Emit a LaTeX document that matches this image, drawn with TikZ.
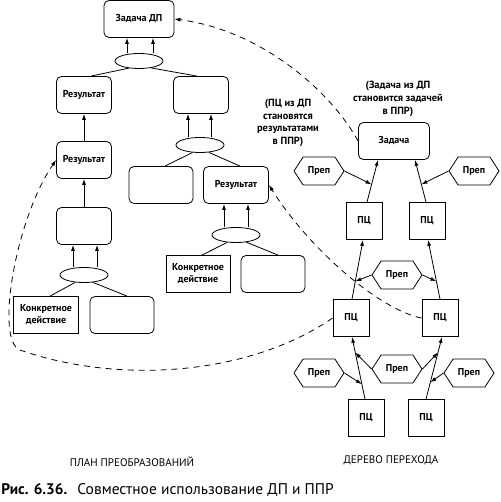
\documentclass[tikz,border=0pt]{standalone}
\usepackage{fontspec}
\setmainfont{PT Sans}
\usetikzlibrary{arrows.meta,shapes.geometric,shapes.symbols}
\tikzset{
  lbl/.style={font=\fontsize{10}{12}\selectfont\bfseries},
  rbox/.style={draw, rounded corners=5pt, minimum width=55pt, minimum height=37pt, inner sep=1pt, align=center, lbl},
  sbox/.style={draw, minimum width=64pt, minimum height=37pt, inner sep=1pt, align=center, lbl},
  pc/.style={draw, minimum width=36pt, minimum height=37pt, inner sep=0pt, lbl},
  oval/.style={draw, ellipse, minimum width=48pt, minimum height=15pt, inner sep=0pt},
  prep/.style={draw, signal, signal to=west and east, signal pointer angle=114, minimum width=50pt, minimum height=28pt, inner sep=0pt, lbl},
  note/.style={align=center, font=\fontsize{10.4}{12.8}\selectfont\bfseries},
  title/.style={font=\fontsize{11}{13}\selectfont},
  arr/.style={-{Latex[length=6pt,width=4pt]}}
}
\begin{document}
\begin{tikzpicture}[x=1pt, y=-1pt, line width=0.8pt]
      \useasboundingbox (0,0) rectangle (500,502);
      \node[rbox, minimum width=70pt] (t0) at (139,19) {Задача ДП};
      \node[oval] (e1) at (139,61) {};
      \node[rbox] (r1) at (84,95) {Результат};
      \node[rbox] (r2) at (201,95) {};
      \node[rbox] (r3) at (84,160) {Результат};
      \node[rbox] (b5) at (84,226) {};
      \node[oval] (e4) at (84,275) {};
      \node[sbox, minimum width=65pt] (k1) at (46,315) {Конкретное\\действие};
      \node[rbox, minimum width=64pt] (b6) at (122,315) {};
      \node[oval] (e2) at (200,145) {};
      \node[rbox, minimum width=64pt] (b3) at (161,185) {};
      \node[rbox, minimum width=65pt] (r4) at (236,185) {Результат};
      \node[oval] (e3) at (236,235) {};
      \node[sbox] (k2) at (198,274) {Конкретное\\действие};
      \node[rbox, minimum width=64pt] (b7) at (273,274) {};
      \node[note] (n1) at (288,123) {(ПЦ из ДП\\становятся\\результатами\\в ППР)};
      \node[note] (n2) at (398,99) {(Задача из ДП\\становится задачей\\в ППР)};
      \node[rbox, minimum width=71pt] (zad) at (394,141) {Задача};
      \node[prep] (p1) at (319,171) {Преп};
      \node[prep] (p2) at (474,171) {Преп};
      \node[pc] (c1) at (364,221) {ПЦ};
      \node[pc] (c2) at (427,221) {ПЦ};
      \node[prep] (p3) at (397,275) {Преп};
      \node[pc] (c3) at (351,318) {ПЦ};
      \node[pc] (c4) at (440,318) {ПЦ};
      \node[prep] (p4) at (319,373) {Преп};
      \node[prep] (p5) at (397,369) {Преп};
      \node[prep] (p6) at (469,373) {Преп};
      \node[pc] (c5) at (366,418) {ПЦ};
      \node[pc] (c6) at (426,418) {ПЦ};
      \node[title] (l1) at (132,462) {ПЛАН ПРЕОБРАЗОВАНИЙ};
      \node[title] (l2) at (391,460) {ДЕРЕВО ПЕРЕХОДА};
      \node[anchor=west, inner sep=0pt, font=\fontsize{15.5}{17}\selectfont] (cap) at (1,490) {\resizebox{66pt}{!}{\textbf{Рис. 6.36.}}\hspace{10pt}Совместное использование ДП и ППР};
      \begin{scope}[-]
        \draw (e1.215) to (r1.70);
        \draw (e1.330) to (r2.102);
        \draw (e2.225) to (b3.78);
        \draw (e2.320) to (r4.78);
        \draw (e3.220) to (k2.78);
        \draw (e3.325) to (b7.75);
        \draw (e4.220) to (k1.78);
        \draw (e4.320) to (b6.75);
      \end{scope}
      \begin{scope}[arr]
        \draw ([xshift=-12]e1.north) to ([xshift=-12]t0.south);
        \draw ([xshift=14]e1.north) to ([xshift=14]t0.south);
        \draw (r3) to (r1);
        \draw (b5) to (r3);
        \draw ([xshift=-11]e4.north) to ([xshift=-11]b5.south);
        \draw ([xshift=13]e4.north) to ([xshift=13]b5.south);
        \draw ([xshift=-12]e2.north) to ([xshift=-13]r2.south);
        \draw ([xshift=11]e2.north) to ([xshift=10]r2.south);
        \draw ([xshift=-12]e3.north) to ([xshift=-12]r4.south);
        \draw ([xshift=12]e3.north) to ([xshift=12]r4.south);
        \draw ([xshift=3]c1.north) -- coordinate[pos=0.42] (m1) ([xshift=-16]zad.south);
        \draw ([xshift=-1]c2.north) -- coordinate[pos=0.42] (m2) ([xshift=21]zad.south);
        \draw ([xshift=1]c3.north) -- coordinate[pos=0.3] (m3) ([xshift=-1]c1.south);
        \draw (c4.north) -- coordinate[pos=0.3] (m4) ([xshift=1]c2.south);
        \draw ([xshift=-1]c5.north) -- coordinate[pos=0.24] (m5) coordinate[pos=0.75] (m6) ([xshift=1]c3.south);
        \draw (c6.north) -- coordinate[pos=0.27] (m8) coordinate[pos=0.75] (m7) ([xshift=2]c4.south);
        \draw (p1.east) to (m1);
        \draw (p2.west) to (m2);
        \draw (p3.west) to (m3);
        \draw (p3.east) to (m4);
        \draw (p4.east) to (m5);
        \draw (p5.west) to (m6);
        \draw (p5.east) to (m7);
        \draw (p6.west) to (m8);
      \end{scope}
      \begin{scope}[arr, dash pattern=on 6pt off 5pt]
        \draw (c3.west) .. controls (250,375) and (120,385) .. (20,350) .. controls (-5,341) and (15,220) .. (r3.west);
        \draw (c4.west) .. controls (380,310) and (310,250) .. (r4.east);
        \draw (zad.west) .. controls (330,90) and (260,30) .. (t0.east);
      \end{scope}
    \end{tikzpicture}
\end{document}
